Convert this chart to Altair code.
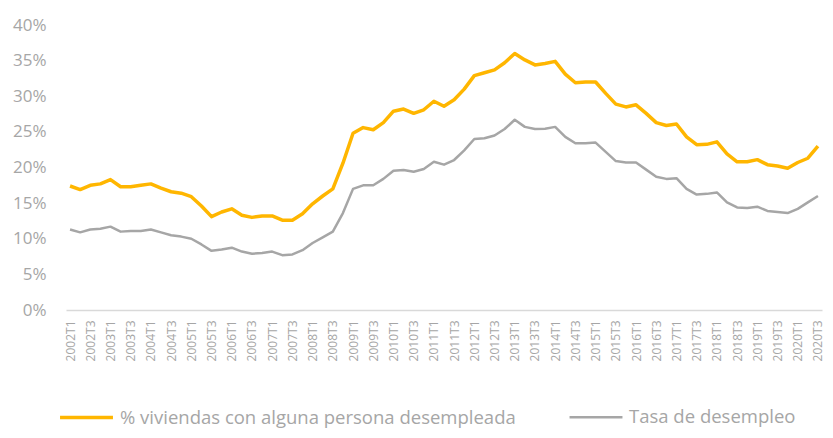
import altair as alt
import pandas as pd

years = list(range(2002, 2021))
quarters = [f"{y}T{q}" for y in years for q in (1, 2, 3, 4)][:75]

viviendas = [17.4, 16.9, 17.5, 17.7, 18.3, 17.3, 17.3, 17.5, 17.7, 17.1,
             16.6, 16.4, 15.9, 14.6, 13.1, 13.75, 14.2, 13.3, 13.0, 13.2,
             13.2, 12.6, 12.6, 13.5, 14.9, 16.0, 17.0, 20.6, 24.8, 25.6,
             25.3, 26.3, 27.9, 28.2, 27.6, 28.1, 29.3, 28.6, 29.5, 31.0,
             32.9, 33.3, 33.7, 34.7, 36.0, 35.1, 34.4, 34.6, 34.9, 33.1,
             31.9, 32.0, 32.0, 30.4, 28.9, 28.5, 28.8, 27.6, 26.3, 25.9,
             26.1, 24.3, 23.2, 23.25, 23.6, 21.9, 20.8, 20.8, 21.1, 20.4,
             20.2, 19.9, 20.7, 21.3, 23.0]

desempleo = [11.3, 10.9, 11.3, 11.4, 11.7, 11.0, 11.1, 11.1, 11.3, 10.9,
             10.5, 10.3, 10.0, 9.2, 8.3, 8.5, 8.75, 8.2, 7.9, 8.0,
             8.2, 7.7, 7.8, 8.4, 9.4, 10.2, 11.0, 13.6, 17.0, 17.5,
             17.5, 18.4, 19.55, 19.65, 19.4, 19.8, 20.8, 20.4, 21.05, 22.4,
             24.0, 24.1, 24.5, 25.4, 26.7, 25.7, 25.4, 25.45, 25.7, 24.3,
             23.4, 23.4, 23.5, 22.2, 20.9, 20.7, 20.7, 19.7, 18.7, 18.4,
             18.5, 17.0, 16.2, 16.3, 16.5, 15.1, 14.4, 14.3, 14.5, 13.9,
             13.75, 13.6, 14.2, 15.1, 16.0]

series_names = ["% viviendas con alguna persona desempleada", "Tasa de desempleo"]
colors = ["#FFB600", "#A6A6A6"]
widths = [3.5, 2.5]
tick_labels = [q for q in quarters if q.endswith("T1") or q.endswith("T3")]
y_ticks = [0, 5, 10, 15, 20, 25, 30, 35, 40]

rows = []
for name, vals in zip(series_names, [viviendas, desempleo]):
    for q, v in zip(quarters, vals):
        rows.append({"trimestre": q, "valor": v, "serie": name})
df = pd.DataFrame(rows)

font = "Open Sans"
gray_txt = "#A6A6A6"

chart = alt.Chart(df).mark_line(strokeJoin="round", strokeCap="butt").encode(
    x=alt.X("trimestre:O", sort=quarters,
            scale=alt.Scale(type="point", padding=0.4),
            axis=alt.Axis(title=None, values=tick_labels, labelAngle=270,
                          labelFont=font, labelFontSize=12, labelColor=gray_txt,
                          ticks=False, domainColor="#D9D9D9", domainWidth=1.5,
                          labelPadding=10, grid=False)),
    y=alt.Y("valor:Q", scale=alt.Scale(domain=[0, 40]),
            axis=alt.Axis(title=None, values=y_ticks, labelExpr="datum.value + '%'",
                          labelFont=font, labelFontSize=17, labelColor=gray_txt,
                          ticks=False, domain=False, grid=False, labelPadding=20)),
    color=alt.Color("serie:N", sort=series_names,
                    scale=alt.Scale(domain=series_names, range=colors),
                    legend=alt.Legend(title=None, orient="none", direction="horizontal",
                                      legendX=-8, legendY=364,
                                      symbolType="stroke", symbolSize=2800,
                                      symbolStrokeWidth=3.5, labelFont=font,
                                      labelFontSize=18.5, labelColor=gray_txt,
                                      labelLimit=600, labelOffset=5,
                                      columnPadding=48)),
    strokeWidth=alt.StrokeWidth("serie:N", sort=series_names,
                                scale=alt.Scale(domain=series_names, range=widths),
                                legend=None),
).properties(
    width=756, height=285,
    padding={"left": 58, "top": 17, "right": 3, "bottom": 118},
    autosize=alt.AutoSizeParams(type="none"),
).configure(background="white").configure_view(stroke=None)

chart.save("out.html", embed_options={"renderer": "svg", "actions": False})
